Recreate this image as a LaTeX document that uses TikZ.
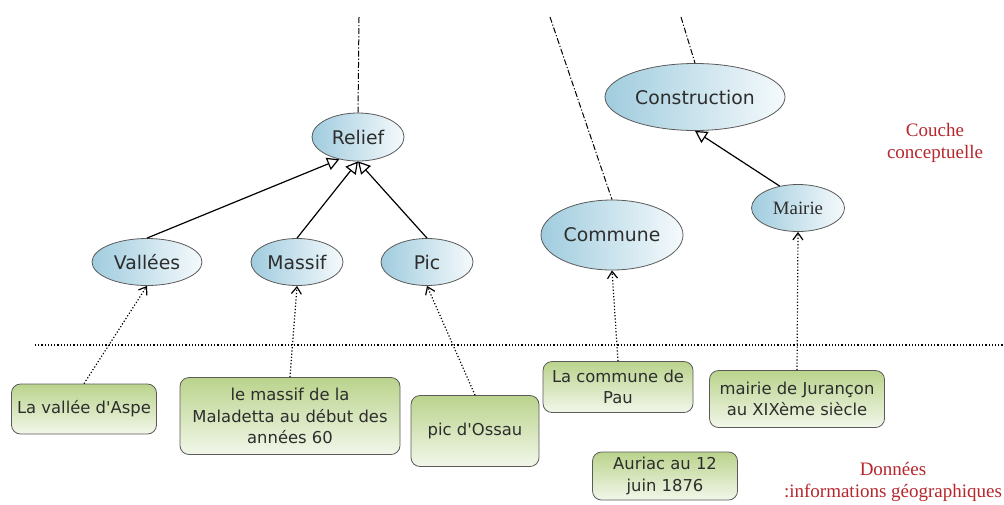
\documentclass[tikz,border=0pt]{standalone}
\usepackage{fontspec}
\setmainfont{Liberation Serif}
\newfontfamily\dvsans{DejaVu Sans}
\usepackage{xcolor}
\usetikzlibrary{shapes.geometric,arrows.meta}
\definecolor{conceptblue}{RGB}{160,204,222}
\definecolor{conceptwhite}{RGB}{245,250,252}
\definecolor{datagreen}{RGB}{186,211,140}
\definecolor{datawhite}{RGB}{242,247,234}
\definecolor{layerred}{RGB}{182,38,44}
\definecolor{edgegray}{RGB}{90,90,90}
\definecolor{textgray}{RGB}{45,45,45}

\begin{document}
\begin{tikzpicture}[x=0.5pt,y=-0.5pt]
        \tikzset{concept/.style={ellipse,draw=edgegray,line width=0.4pt,inner sep=0pt,
                   left color=conceptblue,right color=conceptwhite,text=textgray,
                   font=\dvsans\fontsize{9.4}{11}\selectfont},
                 datum/.style={rectangle,rounded corners=4.5pt,draw=edgegray,line width=0.4pt,
                   inner sep=0pt,top color=datagreen,bottom color=datawhite,text=textgray,
                   align=center,font=\dvsans\fontsize{8.2}{10.8}\selectfont},
                 isa/.style={line width=0.6pt,-{Triangle[open,length=6pt,width=6.5pt]}},
                 instof/.style={densely dotted,line width=0.6pt,-{Straight Barb[length=3.5pt,width=5pt]}},
                 upper/.style={line width=0.5pt,dash pattern=on 3pt off 1pt on 0.6pt off 1pt},
                 layer/.style={text=layerred,align=center,font=\fontsize{9.5}{11}\selectfont}}
        \useasboundingbox (0,0) rectangle (1004,504);
        % couche conceptuelle
        \node [concept,minimum width=46pt,minimum height=24pt] (relief) at (358,137) {Relief};
        \node [concept,minimum width=55pt,minimum height=23.5pt] (vallees) at (147,262) {Vallées};
        \node [concept,minimum width=46pt,minimum height=23.5pt] (massif) at (297,262) {Massif};
        \node [concept,minimum width=46pt,minimum height=23.5pt] (pic) at (427,262) {Pic};
        \node [concept,minimum width=71pt,minimum height=35pt] (commune) at (612,235) {Commune};
        \node [concept,minimum width=90pt,minimum height=33.5pt] (construction) at (695,97) {Construction};
        \node [concept,minimum width=46.5pt,minimum height=23.5pt,font=\fontsize{9.4}{11}\selectfont] (mairie) at (798,208) {Mairie};
        \node [layer] (couche) at (935,143) {Couche\\conceptuelle};
        \coordinate (reliefup) at (359,17);
        \coordinate (communeup) at (550,17);
        \coordinate (constructionup) at (681,17);
        \draw [upper] (reliefup) -- (relief.north);
        \draw [upper] (communeup) -- (commune.north);
        \draw [upper] (constructionup) -- (construction.north);
        \draw [isa] (vallees.north) -- (relief.230);
        \draw [isa] (massif.north) -- (relief.south);
        \draw [isa] (pic.north) -- (relief.south);
        \draw [isa] (mairie.130) -- (construction.south);
        % separation
        \coordinate (sepleft) at (35,345);
        \coordinate (sepright) at (1004,345);
        \draw [densely dotted,line width=0.6pt] (sepleft) -- (sepright);
        % donnees
        \node [datum,minimum width=72.5pt,minimum height=25pt] (aspe) at (84,409) {La vallée d'Aspe};
        \node [datum,minimum width=110pt,minimum height=38.5pt] (maladetta) at (290,416) {le massif de la\\Maladetta au début des\\années 60};
        \node [datum,minimum width=64pt,minimum height=35.5pt] (ossau) at (475,431) {pic d'Ossau};
        \node [datum,minimum width=75pt,minimum height=25.5pt] (pau) at (618,387) {La commune de\\Pau};
        \node [datum,minimum width=87.5pt,minimum height=28.5pt] (jurancon) at (797,399) {mairie de Jurançon\\au XIXème siècle};
        \node [datum,minimum width=72.5pt,minimum height=24pt] (auriac) at (665,476) {Auriac au 12\\juin 1876};
        \node [layer] (donnees) at (893,482) {Données\\:informations géographiques};
        \draw [instof] (aspe.north) -- (vallees.south);
        \draw [instof] (maladetta.north) -- (massif.south);
        \draw [instof] (ossau.north) -- (pic.south);
        \draw [instof] (pau.north) -- (commune.south);
        \draw [instof] (jurancon.north) -- (mairie.south);
\end{tikzpicture}
\end{document}
